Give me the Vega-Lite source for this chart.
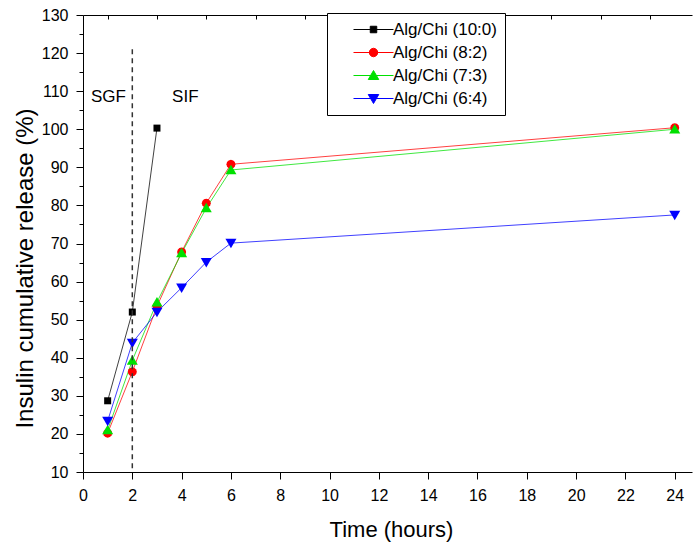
{
  "$schema": "https://vega.github.io/schema/vega-lite/v6.json",
  "width": 609,
  "height": 457,
  "autosize": {"type": "none"},
  "padding": {"left": 83, "top": 15, "right": 1, "bottom": 71},
  "background": "white",
  "config": {
    "font": "Liberation Sans",
    "view": {"stroke": null},
    "axis": {"domainColor": "black", "tickColor": "black", "labelColor": "black", "titleColor": "black", "grid": false, "labelFontWeight": "normal", "titleFontWeight": "normal", "labelFont": "Liberation Sans", "titleFont": "Liberation Sans", "domainWidth": 1, "tickWidth": 1}
  },
  "datasets": {
    "release": [
      {"series": "Alg/Chi (10:0)", "t": 1, "v": 28.7},
      {"series": "Alg/Chi (10:0)", "t": 2, "v": 52},
      {"series": "Alg/Chi (10:0)", "t": 3, "v": 100.3},
      {"series": "Alg/Chi (8:2)", "t": 1, "v": 20.2},
      {"series": "Alg/Chi (8:2)", "t": 2, "v": 36.3},
      {"series": "Alg/Chi (8:2)", "t": 3, "v": 53.5},
      {"series": "Alg/Chi (8:2)", "t": 4, "v": 67.8},
      {"series": "Alg/Chi (8:2)", "t": 5, "v": 80.6},
      {"series": "Alg/Chi (8:2)", "t": 6, "v": 90.8},
      {"series": "Alg/Chi (8:2)", "t": 24, "v": 100.4},
      {"series": "Alg/Chi (7:3)", "t": 1, "v": 21},
      {"series": "Alg/Chi (7:3)", "t": 2, "v": 39.3},
      {"series": "Alg/Chi (7:3)", "t": 3, "v": 54.6},
      {"series": "Alg/Chi (7:3)", "t": 4, "v": 67.5},
      {"series": "Alg/Chi (7:3)", "t": 5, "v": 79.3},
      {"series": "Alg/Chi (7:3)", "t": 6, "v": 89.3},
      {"series": "Alg/Chi (7:3)", "t": 24, "v": 100},
      {"series": "Alg/Chi (6:4)", "t": 1, "v": 23.4},
      {"series": "Alg/Chi (6:4)", "t": 2, "v": 43.9},
      {"series": "Alg/Chi (6:4)", "t": 3, "v": 52},
      {"series": "Alg/Chi (6:4)", "t": 4, "v": 58.4},
      {"series": "Alg/Chi (6:4)", "t": 5, "v": 65.1},
      {"series": "Alg/Chi (6:4)", "t": 6, "v": 70.1},
      {"series": "Alg/Chi (6:4)", "t": 24, "v": 77.5}
    ],
    "boundary": [{"t": 2, "top": 121, "bottom": 10}],
    "phases": [
      {"label": "SGF", "t": 1.03, "v": 108.5},
      {"label": "SIF", "t": 4.15, "v": 108.5}
    ]
  },
  "layer": [
    {
      "data": {"name": "release"},
      "mark": {"type": "line", "strokeWidth": 1, "opacity": 0.75},
      "encoding": {
        "x": {
          "field": "t", "type": "quantitative",
          "scale": {"domain": [0, 24.7], "nice": false, "zero": false},
          "axis": {"values": [0, 2, 4, 6, 8, 10, 12, 14, 16, 18, 20, 22, 24], "tickSize": 7, "labelFontSize": 16, "labelPadding": 8, "labelFlush": false, "title": "Time (hours)", "titleFontSize": 22, "titleX": 308, "titleY": 64, "titleBaseline": "alphabetic", "titleAlign": "center"}
        },
        "y": {
          "field": "v", "type": "quantitative",
          "scale": {"domain": [10, 130], "nice": false, "zero": false},
          "axis": {"values": [10, 20, 30, 40, 50, 60, 70, 80, 90, 100, 110, 120, 130], "tickSize": 7, "labelFontSize": 16, "labelPadding": 8, "labelFlush": false, "title": "Insulin cumulative release (%)", "titleFontSize": 24, "titleX": -58, "titleY": 253, "titleAngle": -90, "titleAlign": "center", "titleBaseline": "middle"}
        },
        "stroke": {
          "field": "series", "type": "nominal",
          "scale": {"domain": ["Alg/Chi (10:0)", "Alg/Chi (8:2)", "Alg/Chi (7:3)", "Alg/Chi (6:4)"], "range": ["black", "red", "#00e000", "blue"]},
          "legend": null
        }
      }
    },
    {
      "data": {"name": "release"},
      "mark": {"type": "point", "filled": true, "opacity": 1, "strokeWidth": 0, "size": 100},
      "encoding": {
        "x": {
          "field": "t", "type": "quantitative",
          "axis": {"values": [1, 3, 5, 7, 9, 11, 13, 15, 17, 19, 21, 23], "tickSize": -4, "labels": false, "domain": false, "title": null}
        },
        "y": {
          "field": "v", "type": "quantitative",
          "axis": {"orient": "left", "values": [15, 25, 35, 45, 55, 65, 75, 85, 95, 105, 115, 125], "tickSize": 4, "labels": false, "domain": false, "title": null}
        },
        "fill": {
          "field": "series", "type": "nominal",
          "scale": {"range": ["black", "blue", "#00e000", "red"]},
          "legend": null
        },
        "shape": {
          "field": "series", "type": "nominal",
          "scale": {"range": [
            "M-0.7,-0.7H0.7V0.7H-0.7Z",
            "M0,1.05L1.1,-0.85L-1.1,-0.85Z",
            "M0,-1.05L1.1,0.85L-1.1,0.85Z",
            "M0.9,0L0.779,0.45L0.45,0.779L0,0.9L-0.45,0.779L-0.779,0.45L-0.9,0L-0.779,-0.45L-0.45,-0.779L0,-0.9L0.45,-0.779L0.779,-0.45Z"
          ]},
          "legend": null
        }
      }
    },
    {
      "data": {"name": "release"},
      "mark": {"type": "point", "filled": true, "opacity": 0, "size": 100},
      "encoding": {
        "x": {"field": "t", "type": "quantitative", "axis": null},
        "y": {"field": "v", "type": "quantitative", "axis": null},
        "shape": {
          "field": "series", "type": "nominal",
          "scale": {
            "domain": ["Alg/Chi (10:0)", "Alg/Chi (8:2)", "Alg/Chi (7:3)", "Alg/Chi (6:4)"],
            "range": [
              "M-4,0H4M-0.65,-0.65H0.65V0.65H-0.65Z",
              "M-4,0H4M0.85,0L0.736,0.425L0.425,0.736L0,0.85L-0.425,0.736L-0.736,0.425L-0.85,0L-0.736,-0.425L-0.425,-0.736L0,-0.85L0.425,-0.736L0.736,-0.425Z",
              "M-4,0H4M0,-1L1.05,0.8L-1.05,0.8Z",
              "M-4,0H4M0,1L1.05,-0.8L-1.05,-0.8Z"
            ]
          },
          "legend": {
            "orient": "none", "legendX": 244, "legendY": -2, "title": null,
            "padding": 8, "strokeColor": "black", "fillColor": "white",
            "labelFont": "Liberation Sans", "labelFontSize": 17, "labelColor": "black", "labelLimit": 300,
            "symbolSize": 100, "symbolOffset": 30, "labelOffset": 11, "rowPadding": 5,
            "symbolOpacity": 1, "symbolStrokeWidth": 1
          }
        },
        "fill": {
          "field": "series", "type": "nominal",
          "scale": {"domain": ["Alg/Chi (10:0)", "Alg/Chi (8:2)", "Alg/Chi (7:3)", "Alg/Chi (6:4)"], "range": ["black", "red", "#00e000", "blue"]}
        },
        "stroke": {
          "field": "series", "type": "nominal",
          "scale": {"domain": ["Alg/Chi (10:0)", "Alg/Chi (8:2)", "Alg/Chi (7:3)", "Alg/Chi (6:4)"], "range": ["black", "red", "#00e000", "blue"]}
        }
      }
    },
    {
      "data": {"name": "boundary"},
      "mark": {"type": "rule", "strokeDash": [5, 4], "color": "#333333", "strokeWidth": 1.5},
      "encoding": {
        "x": {"field": "t", "type": "quantitative", "axis": {"orient": "top", "domain": true, "ticks": false, "labels": false, "title": null}},
        "y": {"field": "top", "type": "quantitative", "axis": null},
        "y2": {"field": "bottom"}
      }
    },
    {
      "data": {"name": "phases"},
      "mark": {"type": "text", "fontSize": 17, "font": "Liberation Sans", "color": "black", "baseline": "middle", "align": "center"},
      "encoding": {
        "x": {"field": "t", "type": "quantitative", "axis": null},
        "y": {"field": "v", "type": "quantitative", "axis": null},
        "text": {"field": "label"}
      }
    }
  ],
  "resolve": {
    "axis": {"x": "independent", "y": "independent"},
    "scale": {"shape": "independent", "fill": "independent", "stroke": "independent"}
  }
}
